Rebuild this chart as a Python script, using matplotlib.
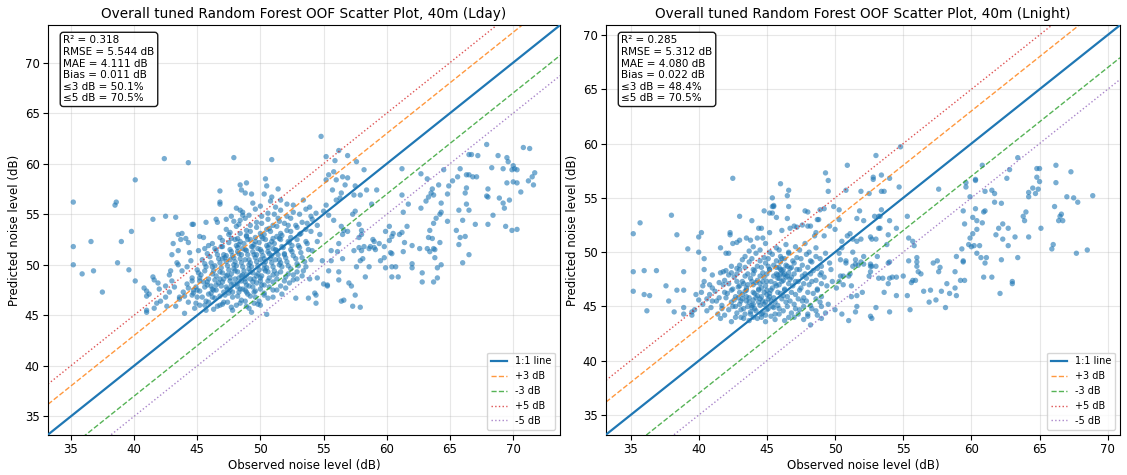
import matplotlib.pyplot as plt
import numpy as np

# values (observed dB, predicted dB)
lday_core = [
    (44.8, 45.7), (45.6, 46.0), (46.3, 45.6), (47.0, 46.1), (47.7, 45.8), (48.4, 46.2), (49.1, 45.7), (49.8, 46.1),
    (43.6, 46.6), (44.3, 46.3), (45.0, 46.8), (45.7, 46.4), (46.4, 46.7), (47.1, 46.3), (47.8, 46.8), (48.5, 46.5),
    (49.2, 46.9), (49.9, 46.4), (50.6, 46.7),
    (43.9, 47.3), (44.6, 47.0), (45.2, 47.4), (45.9, 47.1), (46.5, 47.5), (47.2, 47.0), (47.8, 47.3), (48.4, 47.6),
    (49.0, 47.1), (49.6, 47.4), (50.3, 47.2), (51.0, 47.5), (51.7, 47.1),
    (44.2, 48.1), (44.9, 47.8), (45.5, 48.3), (46.1, 47.9), (46.7, 48.2), (47.3, 47.8), (47.9, 48.1), (48.5, 48.4),
    (49.1, 47.9), (49.7, 48.2), (50.3, 48.0), (51.0, 48.3), (51.6, 47.9), (52.3, 48.2),
    (44.6, 48.7), (45.3, 49.0), (45.9, 48.6), (46.5, 48.9), (47.1, 48.6), (47.7, 49.1), (48.3, 48.7), (48.9, 49.0),
    (49.5, 48.6), (50.1, 48.9), (50.7, 48.7), (51.3, 49.1), (52.0, 48.8), (52.6, 49.0),
    (45.0, 49.5), (45.7, 49.8), (46.3, 49.4), (46.9, 49.7), (47.5, 49.5), (48.1, 49.9), (48.7, 49.4), (49.3, 49.8),
    (49.9, 49.5), (50.5, 49.7), (51.1, 49.4), (51.7, 49.8), (52.4, 49.6), (53.0, 49.9),
    (45.4, 50.5), (46.1, 50.2), (46.7, 50.6), (47.3, 50.3), (47.9, 50.7), (48.5, 50.2), (49.1, 50.5), (49.7, 50.3),
    (50.3, 50.6), (50.9, 50.2), (51.5, 50.5), (52.1, 50.3), (52.8, 50.6), (53.5, 50.3),
    (45.8, 51.1), (46.5, 51.4), (47.1, 51.0), (47.7, 51.3), (48.3, 51.1), (48.9, 51.4), (49.5, 51.0), (50.1, 51.3),
    (50.7, 51.1), (51.3, 51.4), (51.9, 51.0), (52.5, 51.3), (53.2, 51.2),
    (46.2, 52.1), (46.9, 51.8), (47.5, 52.2), (48.1, 51.9), (48.7, 52.1), (49.3, 51.8), (49.9, 52.2), (50.5, 51.9),
    (51.1, 52.1), (51.7, 51.8), (52.3, 52.2), (53.0, 51.9), (53.7, 52.1),
    (46.8, 52.7), (47.5, 53.0), (48.2, 52.6), (48.9, 52.9), (49.6, 52.7), (50.3, 53.0), (51.0, 52.6), (51.7, 52.9),
    (52.4, 52.7), (53.1, 53.0),
    (47.3, 53.5), (48.1, 53.8), (48.9, 53.4), (49.7, 53.7), (50.5, 53.5), (51.3, 53.8), (52.1, 53.4), (52.9, 53.7),
    (53.6, 53.5),
    (47.9, 54.3), (48.8, 54.6), (49.7, 54.2), (50.6, 54.5), (51.5, 54.3), (52.4, 54.6), (53.3, 54.2), (54.1, 54.5),
    (48.6, 55.2), (49.6, 55.5), (50.6, 55.1), (51.6, 55.4), (52.6, 55.2), (53.6, 55.5), (54.4, 55.1),
    (49.4, 56.1), (50.8, 56.3), (52.1, 56.0), (53.4, 56.4),
    (47.0, 49.2), (47.6, 48.4), (48.2, 49.3), (48.8, 48.3), (49.4, 49.2), (50.0, 48.4), (50.6, 49.3), (47.3, 50.9),
    (47.9, 50.0), (48.5, 51.0), (49.1, 50.0), (49.7, 51.0), (50.3, 50.0), (50.9, 50.9), (51.5, 50.0), (48.0, 52.5),
    (48.6, 51.6), (49.2, 52.5), (49.8, 51.6), (50.4, 52.5), (51.0, 51.6), (51.6, 52.5), (46.2, 47.6), (46.8, 48.6),
    (47.4, 47.6), (48.0, 48.6), (48.6, 47.6), (49.2, 48.6),
]

lday_core_dense = [
    (45.2, 46.0), (45.9, 46.3), (46.6, 45.9), (47.4, 46.3), (48.1, 46.0), (48.8, 46.4), (49.5, 46.2),
    (44.0, 46.9), (44.7, 47.2), (45.4, 46.8), (46.1, 47.2), (46.8, 46.9), (47.5, 47.2), (48.2, 46.9), (48.9, 47.3),
    (49.6, 46.8), (50.3, 47.0), (51.0, 46.8),
    (44.3, 47.7), (45.0, 47.5), (45.6, 47.8), (46.3, 47.5), (46.9, 47.9), (47.6, 47.5), (48.2, 47.8), (48.8, 47.5),
    (49.4, 47.8), (50.0, 47.6), (50.7, 47.8), (51.3, 47.5), (52.0, 47.7),
    (44.6, 48.4), (45.2, 48.7), (45.8, 48.3), (46.4, 48.5), (47.0, 48.3), (47.6, 48.7), (48.2, 48.2), (48.8, 48.6),
    (49.4, 48.3), (50.0, 48.7), (50.6, 48.4), (51.3, 48.6), (51.9, 48.4), (52.6, 48.5),
    (45.1, 49.2), (45.6, 49.4), (46.2, 49.1), (46.8, 49.3), (47.4, 49.0), (48.0, 49.4), (48.6, 49.0), (49.2, 49.3),
    (49.8, 49.1), (50.4, 49.4), (51.0, 49.0), (51.6, 49.3), (52.2, 49.1), (52.9, 49.3),
    (45.6, 50.1), (46.2, 49.8), (46.8, 50.2), (47.4, 49.9), (48.0, 50.3), (48.6, 49.8), (49.2, 50.2), (49.8, 49.9),
    (50.4, 50.3), (51.0, 49.8), (51.6, 50.2), (52.2, 49.9), (52.9, 50.1), (53.6, 49.8),
    (46.0, 50.8), (46.6, 51.0), (47.2, 50.7), (47.8, 50.9), (48.4, 50.6), (49.0, 51.0), (49.6, 50.7), (50.2, 50.9),
    (50.8, 50.6), (51.4, 51.0), (52.0, 50.7), (52.6, 50.9), (53.3, 50.7),
    (46.4, 51.6), (47.0, 51.8), (47.6, 51.5), (48.2, 51.7), (48.8, 51.5), (49.4, 51.8), (50.0, 51.5), (50.6, 51.7),
    (51.2, 51.5), (51.8, 51.7), (52.4, 51.5), (53.1, 51.7), (53.8, 51.5),
    (47.0, 52.4), (47.7, 52.6), (48.4, 52.3), (49.0, 52.5), (49.6, 52.3), (50.2, 52.6), (50.9, 52.3), (51.5, 52.6),
    (52.2, 52.3), (52.9, 52.5), (53.6, 52.3),
    (47.6, 53.2), (48.4, 53.1), (49.2, 53.3), (50.0, 53.1), (50.8, 53.3), (51.6, 53.1), (52.4, 53.3), (53.2, 53.1),
    (54.0, 53.3),
    (48.3, 54.0), (49.2, 53.9), (50.1, 54.1), (51.0, 53.9), (51.9, 54.1), (52.8, 53.9), (53.7, 54.1), (54.5, 53.9),
    (49.1, 54.9), (50.1, 54.8), (51.1, 55.0), (52.1, 54.8), (53.1, 55.0), (54.0, 54.8),
    (50.0, 55.8), (51.2, 55.7), (52.6, 55.9), (53.9, 55.7),
    (47.3, 48.9), (47.9, 49.6), (48.5, 48.9), (49.1, 49.6), (49.7, 48.9), (50.3, 49.6), (47.6, 50.5), (48.2, 51.3),
    (48.8, 50.5), (49.4, 51.3), (50.0, 50.5), (50.6, 51.3), (51.2, 50.5), (48.3, 52.0), (48.9, 52.8), (49.5, 52.0),
    (50.1, 52.8), (50.7, 52.0), (51.3, 52.8), (46.5, 48.0), (47.1, 47.3), (47.7, 48.0), (48.3, 47.3), (48.9, 48.0),
    (49.5, 47.3), (50.1, 48.0), (45.8, 48.0), (46.4, 49.9), (47.0, 50.6), (51.9, 51.1), (52.5, 51.9), (50.7, 53.6),
    (51.4, 54.6), (52.2, 53.9),
]

lday_low_side = [
    (42.4, 60.5), (44.3, 60.1), (47.9, 60.6), (50.9, 60.4), (40.1, 58.4), (35.2, 56.2), (38.5, 55.9), (38.6, 56.2),
    (41.5, 54.5), (42.5, 54.8), (43.3, 54.7), (39.8, 53.3), (35.2, 51.8), (36.6, 52.3), (39.0, 52.3), (35.2, 50.0),
    (35.9, 49.1), (36.8, 49.4), (38.7, 50.2), (39.6, 49.5), (40.1, 48.4), (37.5, 47.3),
    (46.8, 57.3), (46.8, 56.2), (46.8, 56.0), (48.4, 57.9), (48.9, 58.1), (48.5, 57.4), (48.8, 57.1), (49.3, 57.0),
    (50.4, 58.5), (50.5, 57.8), (51.4, 57.5), (50.3, 57.0), (50.9, 56.7), (51.6, 56.4),
    (47.3, 54.5), (47.7, 54.8), (48.1, 55.6), (48.4, 55.4), (48.6, 54.9), (48.4, 54.4),
    (44.6, 54.0), (44.7, 54.0), (45.7, 54.2), (46.5, 54.5), (46.6, 54.2),
    (40.8, 47.7), (41.0, 47.4), (41.2, 47.1), (41.0, 46.9), (41.5, 48.8), (41.6, 48.5), (41.9, 48.2), (42.0, 47.6),
    (42.5, 47.9), (42.9, 49.4), (42.8, 49.0), (43.0, 48.4), (43.2, 47.8), (42.8, 47.3), (42.5, 46.8), (42.6, 45.9),
    (41.8, 46.2), (41.0, 45.5), (41.0, 45.3), (41.6, 45.7), (42.1, 46.4), (43.3, 45.9), (43.5, 50.0), (43.8, 49.4),
    (44.2, 49.8), (44.5, 50.4), (43.4, 50.2), (43.0, 51.0), (43.5, 51.4), (43.7, 52.5), (44.1, 52.6), (43.8, 53.1),
    (43.5, 53.0), (44.3, 52.2), (44.4, 51.2), (43.1, 52.1), (45.1, 51.4), (45.6, 51.6), (45.2, 52.8), (45.9, 51.9),
    (45.5, 52.7), (44.0, 45.2), (43.6, 46.8), (44.7, 47.5), (45.2, 48.4), (44.9, 46.2), (45.7, 45.5), (46.2, 46.8),
    (46.8, 46.0), (47.8, 45.5), (48.9, 45.9), (49.3, 45.3), (50.5, 45.1), (50.0, 46.0),
]

lday_high_side = [
    (54.8, 62.7), (56.2, 61.3), (55.2, 60.7), (55.9, 60.3), (56.9, 60.8), (57.6, 60.2), (58.2, 59.4), (61.2, 59.5),
    (62.7, 59.0), (63.2, 58.5), (64.5, 59.4), (65.8, 59.5), (66.5, 60.9), (66.7, 60.9), (67.2, 60.8), (67.9, 61.9),
    (68.8, 60.8), (69.5, 60.6), (69.6, 60.2), (70.0, 59.8), (70.1, 59.5), (70.3, 59.4), (68.3, 59.6), (69.2, 59.5),
    (69.9, 59.4), (66.3, 58.9), (66.5, 58.9), (66.8, 58.7), (67.1, 58.7), (65.6, 58.7), (64.9, 57.8), (65.2, 58.3),
    (64.1, 57.9), (63.6, 57.5), (63.3, 56.7), (63.7, 56.9), (63.1, 56.3), (62.7, 55.6), (63.5, 57.1), (64.3, 56.1),
    (64.3, 55.2), (64.2, 55.0), (63.9, 54.6), (63.7, 54.1), (63.4, 53.4), (63.3, 52.7), (64.2, 52.2), (63.6, 52.6),
    (63.8, 51.5), (64.3, 50.0), (64.0, 48.7), (63.7, 48.3), (62.8, 48.3), (64.8, 57.0), (64.8, 54.3), (66.2, 57.1),
    (66.3, 57.6), (66.3, 56.0), (66.5, 55.4), (65.7, 55.4), (66.0, 54.4), (67.0, 54.0), (68.0, 54.0), (68.0, 57.5),
    (67.9, 56.8), (68.4, 54.9), (68.0, 56.7), (68.9, 56.6), (69.2, 56.1), (69.7, 56.4), (69.3, 55.6), (69.4, 53.8),
    (69.9, 53.4), (70.3, 53.5), (70.6, 57.2), (65.5, 53.4), (65.8, 52.7), (65.7, 52.0), (66.5, 51.0), (66.0, 50.2),
    (66.2, 52.8), (70.8, 61.6), (71.3, 61.5), (71.7, 59.1), (71.5, 58.7), (71.2, 58.3), (71.6, 57.9), (70.0, 58.2),
    (70.3, 58.1), (69.5, 58.1),
    (61.2, 56.9), (61.7, 56.0), (61.3, 55.2), (61.2, 53.2), (61.6, 53.8), (61.4, 52.2), (61.3, 51.3), (62.0, 51.9),
    (62.0, 50.1), (62.0, 49.7), (62.6, 51.6), (62.8, 49.2), (63.2, 51.6), (63.4, 51.3), (63.7, 51.6), (63.8, 50.7),
    (64.0, 49.7), (60.4, 52.8), (60.2, 52.4), (60.4, 51.1), (59.8, 51.8), (60.3, 51.2), (60.4, 49.8), (60.7, 49.8),
    (60.9, 48.8), (60.4, 48.8), (59.9, 49.7), (59.5, 50.4), (60.2, 53.8), (60.5, 53.1), (61.0, 53.0), (59.9, 53.3),
    (59.0, 52.3), (58.7, 51.8), (58.6, 51.6), (58.2, 51.8), (57.8, 51.7), (59.0, 51.7), (59.4, 52.1), (58.9, 52.5),
    (59.8, 50.7), (59.1, 51.5), (58.3, 48.8), (57.6, 49.8), (58.6, 49.8), (58.1, 50.6), (57.9, 50.4), (58.0, 51.4),
    (57.4, 51.4),
    (58.8, 56.0), (58.4, 57.4), (59.2, 57.4), (57.9, 56.9), (57.5, 57.8), (57.4, 56.9), (56.9, 58.6), (56.7, 57.9),
    (56.4, 57.1), (56.3, 56.6), (56.0, 56.4), (55.7, 57.4), (56.0, 58.4), (56.5, 58.7), (55.4, 58.9), (55.8, 59.2),
    (55.2, 58.4), (55.2, 55.9), (55.0, 55.3), (55.4, 54.9), (55.8, 54.4), (56.4, 53.8), (56.6, 53.4), (57.5, 55.3),
    (57.3, 55.0), (57.8, 54.0), (58.0, 53.4), (57.8, 52.7), (58.0, 53.0), (56.9, 53.3), (56.5, 53.0), (56.2, 52.1),
    (56.1, 51.3), (55.6, 51.4), (55.6, 50.4), (56.5, 50.6), (56.2, 49.3), (55.4, 49.4), (55.0, 48.1), (55.3, 47.9),
    (56.2, 48.5), (57.0, 48.2), (57.2, 47.9), (57.5, 47.0), (56.6, 46.5), (56.4, 46.4), (57.3, 45.9), (57.9, 45.8),
    (54.4, 46.2), (53.8, 46.7), (52.8, 46.7), (54.3, 47.2), (54.4, 47.0), (55.3, 48.0), (53.9, 48.6), (54.5, 48.7),
    (53.3, 48.9), (52.9, 48.6), (53.4, 49.4), (54.0, 50.5), (54.9, 50.4), (54.1, 51.4), (54.5, 52.3), (54.7, 53.0),
]

lnight_core = [
    (41.6, 43.9), (42.4, 43.6), (43.1, 44.0), (43.7, 43.7), (44.3, 43.9), (44.9, 43.6), (45.6, 43.8), (46.3, 43.7),
    (47.0, 44.0), (47.7, 43.8), (48.2, 43.3), (49.0, 43.9),
    (40.6, 44.6), (41.4, 44.3), (42.2, 44.7), (42.8, 44.4), (43.3, 44.8), (43.8, 44.3), (44.2, 44.6), (44.7, 44.4),
    (45.1, 44.8), (45.6, 44.3), (46.2, 44.6), (46.8, 44.4), (47.4, 44.7), (48.0, 44.3), (48.6, 44.6), (49.3, 44.4),
    (50.0, 44.7),
    (40.3, 45.2), (41.0, 45.5), (41.7, 45.1), (42.4, 45.4), (43.0, 45.2), (43.5, 45.5), (43.9, 45.1), (44.4, 45.4),
    (44.8, 45.2), (45.3, 45.5), (45.8, 45.1), (46.4, 45.4), (47.0, 45.2), (47.6, 45.5), (48.2, 45.1), (48.9, 45.4),
    (49.5, 45.2),
    (40.8, 46.1), (41.5, 45.8), (42.1, 46.2), (42.7, 45.9), (43.2, 46.1), (43.7, 45.8), (44.1, 46.2), (44.6, 45.9),
    (45.0, 46.1), (45.5, 45.8), (46.0, 46.2), (46.5, 45.9), (47.1, 46.1), (47.7, 45.8), (48.4, 46.2), (49.0, 45.9),
    (41.0, 46.7), (41.8, 47.0), (42.5, 46.6), (43.0, 46.9), (43.5, 46.7), (44.0, 47.0), (44.4, 46.6), (44.9, 46.9),
    (45.4, 46.7), (45.9, 47.0), (46.3, 46.6), (46.9, 46.9), (47.5, 46.7), (48.1, 47.0), (48.7, 46.6), (49.4, 46.9),
    (50.1, 46.7),
    (41.9, 47.4), (42.6, 47.7), (43.2, 47.3), (43.8, 47.6), (44.3, 47.4), (44.8, 47.7), (45.3, 47.3), (45.8, 47.6),
    (46.2, 47.4), (46.8, 47.7), (47.3, 47.3), (47.9, 47.6), (48.6, 47.4), (49.2, 47.7), (49.8, 47.3),
    (42.4, 48.1), (43.0, 48.4), (43.6, 48.0), (44.1, 48.3), (44.7, 48.1), (45.2, 48.4), (45.7, 48.0), (46.1, 48.3),
    (46.6, 48.1), (47.2, 48.4), (47.8, 48.0), (48.4, 48.3), (49.0, 48.1), (49.7, 48.4),
    (43.0, 48.8), (43.7, 49.1), (44.3, 48.7), (44.9, 49.0), (45.5, 48.8), (46.0, 49.1), (46.5, 48.7), (47.0, 49.0),
    (47.6, 48.8), (48.3, 49.1), (49.0, 48.7), (49.6, 49.0),
    (43.4, 49.6), (44.2, 49.9), (44.8, 49.5), (45.4, 49.8), (46.0, 49.6), (46.6, 49.9), (47.2, 49.5), (47.9, 49.8),
    (48.6, 49.6), (49.3, 49.9),
    (44.0, 50.5), (44.9, 50.8), (45.7, 50.4), (46.4, 50.7), (47.1, 50.5), (47.8, 50.8), (48.6, 50.4),
    (42.9, 45.8), (43.4, 46.4), (43.9, 44.9), (44.5, 45.7), (45.0, 46.5), (45.5, 44.9), (44.2, 47.2), (43.6, 47.0),
    (45.9, 48.6), (46.2, 47.9), (46.4, 48.8), (45.8, 47.9), (46.1, 49.4), (46.7, 48.5), (44.6, 44.0), (43.3, 43.9),
    (42.7, 45.0), (44.0, 45.6), (45.2, 45.9), (44.7, 47.3),
]

lnight_core_dense = [
    (41.9, 44.2), (42.7, 44.0), (43.4, 44.3), (44.0, 44.0), (44.6, 44.3), (45.3, 44.1), (45.9, 44.3), (46.6, 44.0),
    (47.3, 44.3), (48.0, 44.1), (48.7, 44.2),
    (40.9, 44.9), (41.7, 44.8), (42.5, 45.0), (43.1, 44.7), (43.6, 45.0), (44.1, 44.8), (44.5, 45.1), (45.0, 44.7),
    (45.4, 45.0), (45.9, 44.8), (46.5, 45.0), (47.1, 44.8), (47.7, 45.0), (48.3, 44.8), (49.0, 45.0),
    (40.6, 45.7), (41.3, 45.5), (42.0, 45.8), (42.6, 45.6), (43.2, 45.7), (43.7, 45.4), (44.2, 45.8), (44.7, 45.5),
    (45.1, 45.7), (45.6, 45.4), (46.1, 45.7), (46.7, 45.5), (47.3, 45.7), (47.9, 45.5), (48.6, 45.7),
    (41.2, 46.4), (41.9, 46.3), (42.4, 46.5), (43.0, 46.3), (43.5, 46.5), (44.0, 46.3), (44.4, 46.5), (44.8, 46.3),
    (45.3, 46.5), (45.8, 46.3), (46.3, 46.5), (46.8, 46.3), (47.4, 46.5), (48.0, 46.3), (48.7, 46.5),
    (41.5, 47.2), (42.2, 47.1), (42.8, 47.3), (43.3, 47.1), (43.9, 47.3), (44.5, 47.1), (45.0, 47.3), (45.6, 47.1),
    (46.1, 47.3), (46.6, 47.1), (47.1, 47.3), (47.7, 47.1), (48.3, 47.3), (49.0, 47.1),
    (42.2, 47.9), (42.8, 48.0), (43.4, 47.8), (44.0, 48.0), (44.5, 47.8), (45.0, 48.0), (45.5, 47.8), (46.0, 48.0),
    (46.5, 47.8), (47.0, 48.0), (47.6, 47.8), (48.2, 48.0), (48.9, 47.9),
    (42.8, 48.5), (43.4, 48.6), (44.0, 48.4), (44.6, 48.6), (45.2, 48.4), (45.7, 48.6), (46.2, 48.4), (46.8, 48.6),
    (47.4, 48.4), (48.0, 48.6), (48.7, 48.5),
    (43.2, 49.3), (43.9, 49.4), (44.5, 49.2), (45.1, 49.4), (45.7, 49.2), (46.3, 49.4), (46.9, 49.2), (47.5, 49.4),
    (48.2, 49.2), (48.9, 49.4),
    (43.7, 50.1), (44.5, 50.2), (45.2, 50.0), (45.9, 50.2), (46.6, 50.0), (47.4, 50.2), (48.1, 50.0),
    (44.0, 45.2), (44.3, 46.0), (43.5, 45.9), (45.2, 46.2), (45.7, 46.9), (46.0, 48.4), (46.3, 48.0), (45.9, 47.6),
    (46.4, 47.7), (44.9, 45.4), (43.8, 44.5), (44.9, 44.2), (46.2, 46.0), (46.7, 47.5), (43.1, 45.5), (42.9, 46.8),
    (44.6, 46.7), (45.1, 48.7),
]

lnight_low_side = [
    (42.5, 56.8), (38.0, 53.4), (35.7, 52.7), (35.2, 51.7), (38.4, 51.6), (40.2, 51.8), (40.0, 51.4), (39.2, 50.3),
    (40.0, 50.0), (40.4, 49.4), (35.2, 48.2), (36.0, 48.3), (36.9, 48.3), (38.9, 48.2), (40.4, 48.4), (37.6, 46.9),
    (35.2, 46.4), (36.0, 46.1), (36.4, 46.0), (38.4, 46.5), (38.9, 46.5), (36.2, 44.6), (37.8, 45.5), (38.2, 44.5),
    (38.9, 44.9), (38.9, 44.3), (39.5, 44.5), (39.7, 44.7), (39.5, 44.2), (39.8, 46.1), (40.2, 46.3), (40.0, 45.6),
    (40.4, 47.3), (40.3, 46.9), (40.8, 47.0), (41.0, 47.9), (41.6, 48.1), (41.8, 48.2), (42.0, 48.3), (42.4, 48.7),
    (42.2, 49.9), (42.0, 49.9), (41.6, 50.4), (42.3, 51.8), (42.3, 51.6), (42.5, 50.8), (42.8, 50.9), (43.0, 51.1),
    (43.5, 51.3), (43.8, 51.1), (43.0, 53.3), (43.9, 52.9), (44.4, 52.2), (44.6, 52.2), (44.3, 51.3), (44.7, 51.3),
    (45.2, 51.8), (44.8, 53.8), (45.2, 53.6), (45.4, 54.2), (45.5, 54.2), (45.7, 53.2), (46.5, 53.1), (46.6, 54.2),
    (46.5, 55.2), (46.6, 55.7), (46.0, 56.3), (45.4, 55.0), (45.5, 54.3), (45.4, 53.6), (46.1, 52.0), (46.7, 52.2),
    (47.0, 52.4), (47.2, 52.3), (47.6, 52.5), (48.0, 52.4), (48.2, 52.4), (48.7, 53.0), (48.8, 53.0), (47.8, 53.8),
    (48.0, 53.7), (48.9, 53.9), (49.2, 54.0), (49.3, 57.3), (49.5, 56.6), (49.5, 55.6), (49.9, 54.2), (50.3, 53.9),
    (50.3, 53.0), (49.6, 52.4), (50.0, 52.1), (48.6, 51.8), (48.5, 51.5), (49.2, 51.5),
]

lnight_high_side = [
    (54.8, 59.7), (53.0, 58.9), (50.9, 58.0), (52.8, 56.9), (52.8, 56.7), (53.4, 57.1), (54.0, 56.8), (50.8, 55.7),
    (51.9, 55.6), (52.5, 55.4), (53.4, 55.6), (53.6, 55.6), (54.7, 56.0), (57.6, 55.8), (59.6, 56.4), (59.6, 56.0),
    (60.3, 56.6), (60.3, 56.7), (60.8, 58.0), (62.8, 57.6), (63.4, 58.7), (62.6, 56.8), (64.8, 57.7), (65.0, 57.7),
    (64.8, 56.9), (65.0, 56.5), (64.9, 55.8), (64.7, 55.4), (64.2, 55.5), (64.2, 55.1), (64.5, 55.9), (66.2, 58.0),
    (66.2, 56.4), (67.3, 57.4), (67.0, 55.1), (67.5, 55.0), (66.1, 54.2), (66.6, 53.5), (66.4, 52.9), (66.7, 52.9),
    (66.5, 53.3), (65.1, 52.2), (64.2, 51.4), (64.0, 53.7), (63.8, 53.3), (63.9, 52.9), (62.3, 52.6), (62.0, 52.2),
    (62.7, 52.2), (61.8, 51.6), (62.3, 51.2), (62.7, 50.6), (63.2, 51.4), (63.4, 49.5), (62.2, 49.3), (62.1, 46.2),
    (66.0, 50.7), (65.9, 50.3), (63.0, 47.3), (63.0, 47.1), (67.8, 54.6), (68.9, 55.2), (67.7, 49.9), (68.5, 50.2),
    (61.0, 49.0), (60.9, 47.7), (61.5, 47.7), (60.7, 49.5), (61.1, 49.5), (60.8, 52.7), (60.4, 52.9), (60.3, 54.0),
    (60.9, 53.7), (61.0, 55.6), (61.7, 55.4), (61.5, 55.7), (62.2, 54.5), (61.7, 54.6), (61.0, 53.8), (59.9, 55.1),
    (59.4, 53.8), (60.1, 53.2), (59.5, 52.6), (60.4, 52.1), (60.1, 51.7), (59.9, 51.3), (59.8, 50.7), (59.3, 50.3),
    (60.0, 50.5), (60.2, 50.6), (60.6, 50.6), (60.4, 49.9), (59.4, 49.2), (59.4, 49.1), (58.9, 49.6), (58.8, 48.2),
    (59.2, 47.4), (59.5, 47.4), (58.8, 46.7), (58.9, 46.0), (58.4, 46.2), (58.2, 47.1), (57.5, 49.2), (57.7, 48.6),
    (57.6, 48.2), (57.2, 49.0), (57.0, 46.5), (56.3, 48.0), (56.5, 46.4), (57.4, 45.6), (57.8, 46.4), (58.1, 44.9),
    (56.9, 45.4), (56.0, 49.1), (56.0, 49.5), (56.0, 48.7), (55.4, 49.2), (55.7, 47.4), (55.6, 47.2), (55.9, 47.4),
    (55.3, 46.0), (55.5, 44.7), (56.1, 48.2), (55.0, 47.8), (54.5, 47.7), (54.2, 47.7), (54.5, 46.0), (54.0, 44.5),
    (53.9, 47.1), (53.6, 46.3), (53.5, 47.6), (53.2, 47.6), (52.7, 48.7), (53.0, 48.7), (54.0, 49.1), (54.0, 47.6),
    (53.9, 49.0), (53.0, 44.9), (52.6, 44.1), (52.7, 43.9), (51.6, 45.0), (51.5, 44.5), (51.0, 43.7), (50.5, 44.3),
    (51.2, 45.9), (51.6, 46.0), (52.0, 46.3), (51.2, 46.9), (50.6, 47.0), (50.6, 47.8), (51.1, 48.0), (50.8, 49.0),
    (51.5, 48.9), (51.7, 48.8), (52.5, 47.8), (52.6, 48.2), (52.1, 48.9), (52.6, 48.7),
    (51.8, 53.8), (51.6, 53.1), (52.1, 52.9), (52.9, 53.3), (53.2, 53.3), (53.4, 53.9), (53.3, 53.3), (54.0, 52.9),
    (53.2, 52.2), (52.6, 51.4), (53.0, 51.2), (51.9, 51.2), (51.6, 51.0), (51.3, 51.2), (51.1, 51.7), (50.9, 51.5),
    (50.5, 51.0), (50.5, 50.4), (50.3, 49.9), (51.3, 50.0), (51.5, 49.3), (51.3, 48.7), (50.8, 49.2), (50.4, 49.3),
    (51.0, 47.8), (50.4, 47.8), (50.3, 47.3), (53.1, 49.6), (52.6, 48.9), (52.1, 49.6), (51.9, 49.1), (53.3, 52.2),
    (53.9, 51.6), (54.5, 52.2), (55.3, 53.3), (55.4, 51.3), (55.8, 50.6), (55.7, 51.0), (53.8, 50.7), (52.7, 51.2),
]

lday_stats = ["R² = 0.318", "RMSE = 5.544 dB", "MAE = 4.111 dB", "Bias = 0.011 dB", "≤3 dB = 50.1%", "≤5 dB = 70.5%"]
lnight_stats = ["R² = 0.285", "RMSE = 5.312 dB", "MAE = 4.080 dB", "Bias = 0.022 dB", "≤3 dB = 48.4%", "≤5 dB = 70.5%"]

panels = [
    ("Overall tuned Random Forest OOF Scatter Plot, 40m (Lday)",
     lday_core + lday_core_dense + lday_low_side + lday_high_side, lday_stats),
    ("Overall tuned Random Forest OOF Scatter Plot, 40m (Lnight)",
     lnight_core + lnight_core_dense + lnight_low_side + lnight_high_side, lnight_stats),
]


def scatter_panel(ax, title, pts, stats):
    pts = np.array(pts)
    obs, pred = pts[:, 0], pts[:, 1]
    lo = min(obs.min(), pred.min()) - 2
    hi = max(obs.max(), pred.max()) + 2
    ax.scatter(obs, pred, s=15, alpha=0.6, color="C0", edgecolors="none", zorder=2)
    line = np.array([lo, hi])
    ax.plot(line, line, color="C0", lw=1.6, label="1:1 line", zorder=3)
    ax.plot(line, line + 3, color="C1", ls="--", lw=1, alpha=0.8, label="+3 dB")
    ax.plot(line, line - 3, color="C2", ls="--", lw=1, alpha=0.8, label="-3 dB")
    ax.plot(line, line + 5, color="C3", ls=":", lw=1, alpha=0.8, label="+5 dB")
    ax.plot(line, line - 5, color="C4", ls=":", lw=1, alpha=0.8, label="-5 dB")
    ax.set_xlim(lo, hi)
    ax.set_ylim(lo, hi)
    ax.grid(alpha=0.3)
    ax.set_xlabel("Observed noise level (dB)", fontsize=8.5, labelpad=2)
    ax.set_ylabel("Predicted noise level (dB)", fontsize=8.5, labelpad=3)
    ax.set_title(title, fontsize=9.8, pad=5)
    ax.tick_params(labelsize=8.5, pad=2.5)
    ax.legend(loc="lower right", fontsize=7, handlelength=1.7)
    ax.text(0.03, 0.975, "\n".join(stats), transform=ax.transAxes, va="top", fontsize=7.5,
            bbox=dict(boxstyle="round", facecolor="white", alpha=0.9))


fig = plt.figure(figsize=(11.27, 4.75), dpi=100)
ax1 = fig.add_axes([0.0426, 0.085, 0.4543, 0.862])
ax2 = fig.add_axes([0.5377, 0.085, 0.4561, 0.862])
for ax, (title, pts, stats) in zip([ax1, ax2], panels):
    scatter_panel(ax, title, pts, stats)

plt.savefig("out.png", dpi=100)
